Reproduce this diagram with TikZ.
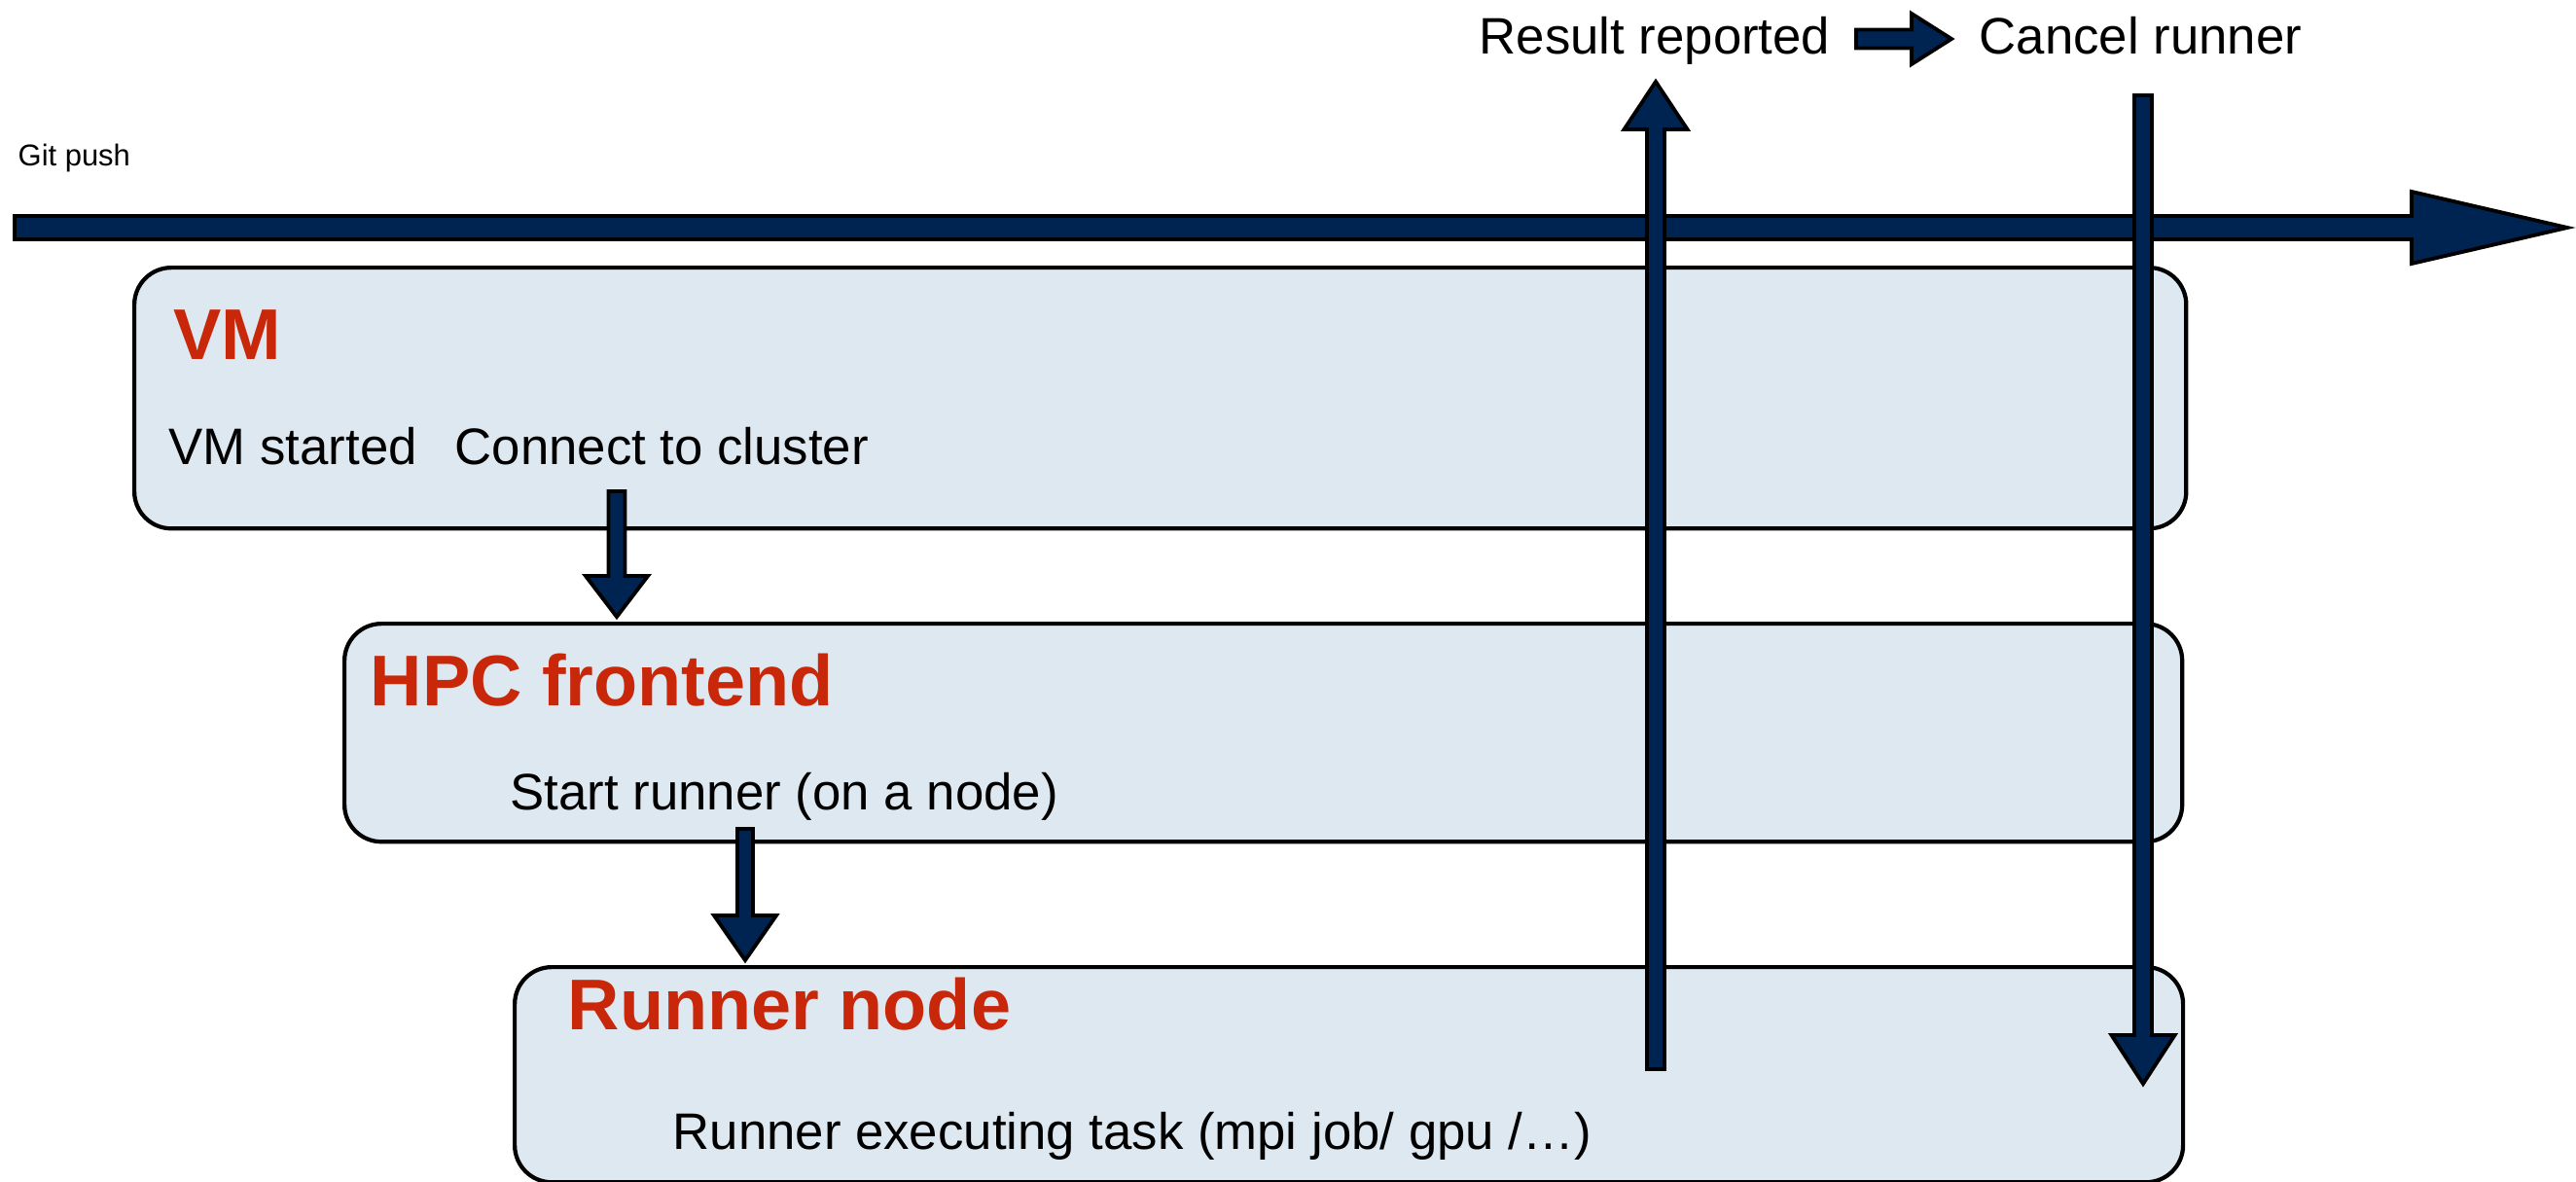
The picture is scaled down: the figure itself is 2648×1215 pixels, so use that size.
\documentclass[tikz,border=0pt]{standalone}
\usepackage{fontspec}
\setmainfont{Liberation Sans}
\usetikzlibrary{calc, positioning}

\definecolor{navy}{RGB}{0,36,82}
\definecolor{boxblue}{RGB}{222,232,241}
\definecolor{titlered}{RGB}{200,39,10}

\begin{document}
\begin{tikzpicture}[
        x=0.01cm, y=-0.01cm,
        box/.style={draw=black, line width=1.2pt, fill=boxblue, rounded corners=0.38cm, anchor=north west, inner sep=0pt},
        boxtitle/.style={anchor=base west, inner sep=0pt, font=\fontsize{21}{25}\selectfont\bfseries, text=titlered},
        txt/.style={anchor=base west, inner sep=0pt, font=\fontsize{15}{18}\selectfont},
        barrow/.style n args={3}{draw=black, fill=navy, line width=1.1pt, line join=miter,
            to path={let \p1=($(\tikztotarget)!#3!(\tikztostart)$) in
                ($(\tikztostart)!#1!90:(\tikztotarget)$) -- ($(\p1)!#1!90:(\tikztotarget)$)
                -- ($(\p1)!#2!90:(\tikztotarget)$) -- (\tikztotarget)
                -- ($(\p1)!#2!-90:(\tikztotarget)$) -- ($(\p1)!#1!-90:(\tikztotarget)$)
                -- ($(\tikztostart)!#1!-90:(\tikztotarget)$) -- cycle}}
    ]
    \useasboundingbox (0,0) rectangle (2648,1215);

    % Top labels
    \node[txt, font=\fontsize{8.8}{10}\selectfont] (gitpush) at (18,170) {Git push};
    \node[txt] (result) at (1520,55) {Result reported};
    \node[txt] (cancel) at (2034,55) {Cancel runner};

    % ================= Boxes =================
    \node[box, minimum width=21.08cm, minimum height=2.68cm] (vm) at (136,273) {};
    \node[boxtitle] (vmtitle) at (178,369) {VM};
    \node[txt] (vmstart) at (173,477) {VM started};
    \node[txt] (connect) at (467,477) {Connect to cluster};

    \node[box, minimum width=18.88cm, minimum height=2.24cm] (hpc) at (352,639) {};
    \node[boxtitle] (hpctitle) at (380,725) {HPC frontend};
    \node[txt] (startrun) at (524,832) {Start runner (on a node)};

    \node[box, minimum width=17.14cm, minimum height=2.21cm] (runner) at (527,992) {};
    \node[boxtitle] (runtitle) at (583,1058) {Runner node};
    \node[txt] (runtask) at (691,1181) {Runner executing task (mpi job/ gpu /…)};

    % ================= Arrows =================
    \coordinate (tl0) at (15,234);
    \coordinate (tl1) at (2639,234);
    \coordinate (c2h) at (634,505);
    \coordinate (h2r) at (766,852);
    \coordinate (rep0) at (1702,1099);
    \coordinate (rep1) at (1702,84);
    \coordinate (can0) at (2203,98);
    \coordinate (can1) at (2203,1114);
    \coordinate (r2c0) at (1908,40);
    \coordinate (r2c1) at (2006,40);

    % time line
    \draw[barrow={0.12cm}{0.37cm}{1.6cm}] (tl0) to (tl1);

    % steps
    \draw[barrow={0.085cm}{0.32cm}{0.42cm}] (c2h) to ([yshift=0.05cm]c2h |- hpc.north);
    \draw[barrow={0.08cm}{0.32cm}{0.46cm}] (h2r) to ([yshift=0.05cm]h2r |- runner.north);
    \draw[barrow={0.095cm}{0.26cm}{0.41cm}] (r2c0) to (r2c1);

    % report / cancel
    \draw[barrow={0.09cm}{0.325cm}{0.49cm}] (rep0) to (rep1);
    \draw[barrow={0.09cm}{0.325cm}{0.5cm}] (can0) to (can1);

\end{tikzpicture}
\end{document}
